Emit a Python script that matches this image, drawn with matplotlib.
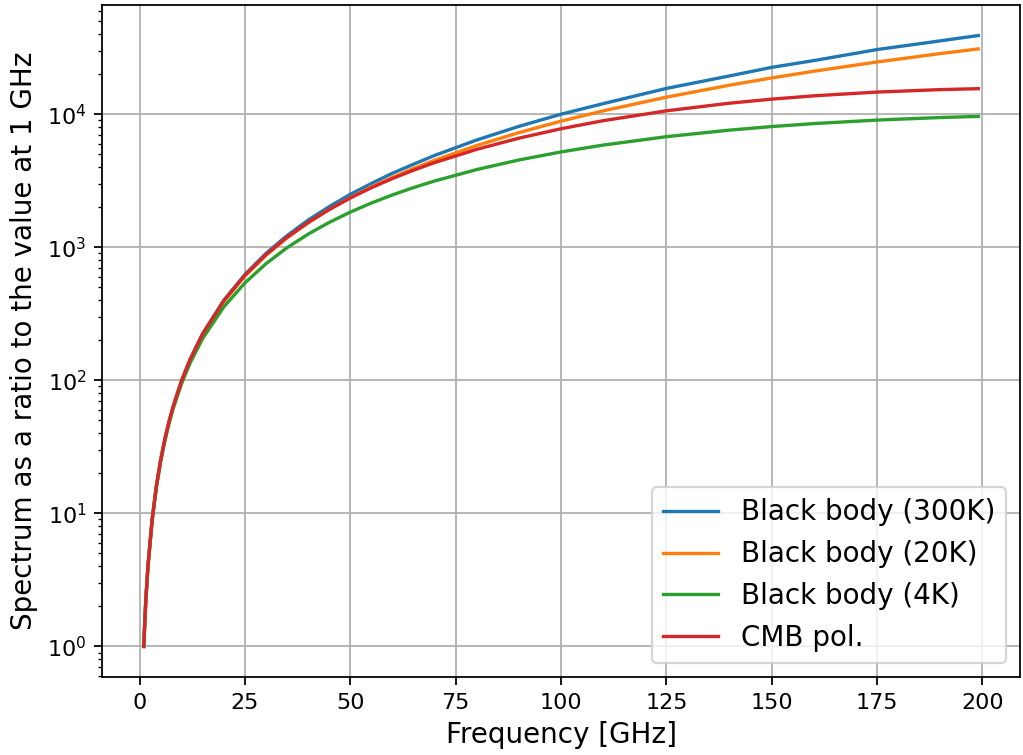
import matplotlib
matplotlib.use("Agg")
import matplotlib.pyplot as plt

freq_ghz = [1, 1.5, 2, 3, 4, 5, 6, 7, 8, 10, 12, 15, 20, 25, 30, 35, 40, 45, 50,
            55, 60, 65, 70, 80, 90, 100, 110, 125, 140, 150, 160, 175, 190, 199]

bb_300k = [1, 2.25, 4.0, 9.0, 16.0, 25.0, 36.0, 48.98, 64.0, 99.9, 143.9, 224.8,
           399.4, 624.0, 899.3, 1221.7, 1598.8, 2017.9, 2498, 3011.9, 3597, 4203.4,
           4896, 6395, 8094, 9992, 11994.5, 15610, 19382, 22480, 25274, 30590,
           35554, 38974]
bb_20k = [1, 2.25, 3.995, 8.978, 15.94, 24.88, 35.78, 48.65, 63.46, 98.92, 142.1,
          221.2, 390.9, 607.2, 869.0, 1175.7, 1526.3, 1919.9, 2355.8, 2833.2, 3351,
          3908.7, 4505, 5812, 7265, 8859, 10585.7, 13414, 16511, 18715, 21024,
          24672, 28527, 30931]
bb_4k = [1, 2.243, 3.976, 8.892, 15.71, 24.40, 34.93, 47.25, 61.34, 94.69, 134.7,
         206.6, 356.1, 539.2, 752.2, 991.6, 1254, 1536.4, 1835.5, 2148.5, 2473,
         2806.1, 3146, 3835, 4526, 5203, 5857, 6772, 7588, 8069, 8495, 9029,
         9434, 9618]
cmb_pol = [1, 2.25, 4.0, 8.998, 15.99, 24.98, 35.97, 48.94, 63.89, 99.74, 143.5,
           223.7, 395.9, 615.0, 879.4, 1186.9, 1535, 1922.3, 2344.6, 2799, 3282,
           3791.9, 4324, 5439, 6598, 7772, 8932.7, 10593, 12091, 12971, 13735,
           14658, 15295, 15536]

labels = ["Black body (300K)", "Black body (20K)", "Black body (4K)", "CMB pol."]
series = [bb_300k, bb_20k, bb_4k, cmb_pol]

fig = plt.figure(figsize=(1023 / 160, 755 / 160), dpi=160)
ax = fig.add_axes([102 / 1023, 1 - 677 / 755, (1020 - 102) / 1023, (677 - 5) / 755])

for vals, lab in zip(series, labels):
    ax.plot(freq_ghz, vals, label=lab)

ax.set_yscale("log")
ax.set_xticks([0, 25, 50, 75, 100, 125, 150, 175, 200])
ax.grid(True)
ax.set_xlabel("Frequency [GHz]", fontsize=12.5)
ax.set_ylabel("Spectrum as a ratio to the value at 1 GHz", fontsize=12.5)
ax.legend(loc="lower right", fontsize=12.5)

fig.savefig("out.png", dpi=160)
